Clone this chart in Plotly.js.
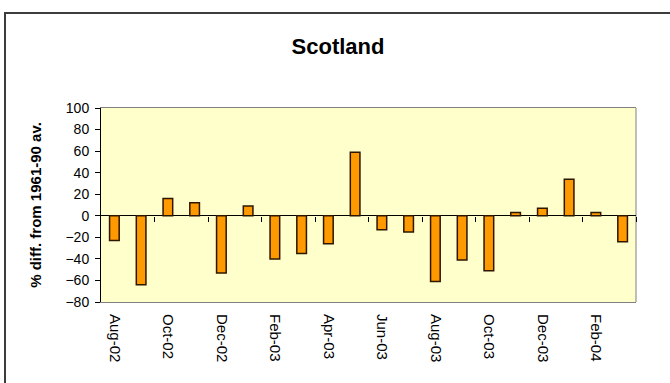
<!DOCTYPE html>
<html>
<head>
<meta charset="utf-8">
<script src="https://cdn.plot.ly/plotly-3.0.1.min.js"></script>
<style>html,body{margin:0;padding:0;background:#fff;}</style>
</head>
<body>
<div id="chart" style="width:670px;height:383px;"></div>
<script>
// Data
var months = ['Aug-02','Sep-02','Oct-02','Nov-02','Dec-02','Jan-03','Feb-03','Mar-03','Apr-03','May-03',
              'Jun-03','Jul-03','Aug-03','Sep-03','Oct-03','Nov-03','Dec-03','Jan-04','Feb-04','Mar-04'];
var pctDiff = [-23, -64, 16, 12, -53, 9, -40, -35, -26, 59,
               -13, -15, -61, -41, -51, 3, 7, 34, 3, -24];
var tickLabels = ['Aug-02','Oct-02','Dec-02','Feb-03','Apr-03','Jun-03','Aug-03','Oct-03','Dec-03','Feb-04'];
var yTicks = [-80, -60, -40, -20, 0, 20, 40, 60, 80, 100];

var W = 670, H = 383;
var M = {l: 101, r: 34, t: 108, b: 81};
var pw = W - M.l - M.r, ph = H - M.t - M.b;
var yMin = yTicks[0], yMax = yTicks[yTicks.length - 1];

// tick marks on the zero line at every other category boundary
var boundaryTicks = [];
for (var i = 1; i < months.length; i += 2) boundaryTicks.push(i + 0.5);

function px2paperX(p) { return (p - M.l) / pw; }
function px2paperY(p) { return (H - M.b - p) / ph; }

var trace = {
  type: 'bar',
  x: months,
  y: pctDiff,
  marker: {color: '#FF9900', line: {color: '#2e1600', width: 1.5}},
  hoverinfo: 'x+y'
};

// empty helper trace so the zero-line tick axis gets drawn
var tickHelper = {
  type: 'scatter', mode: 'none', x: [], y: [],
  xaxis: 'x2', yaxis: 'y', showlegend: false, hoverinfo: 'skip'
};

var layout = {
  width: W, height: H,
  margin: M,
  paper_bgcolor: '#ffffff',
  plot_bgcolor: '#FFFFCC',
  showlegend: false,
  bargap: 0.64,
  font: {family: 'Arial, "Liberation Sans", sans-serif', color: '#000'},
  title: {
    text: '<b>Scotland</b>',
    font: {family: 'Arial, "Liberation Sans", sans-serif', size: 22, color: '#000'},
    xref: 'container', x: 338 / W, xanchor: 'center',
    yref: 'container', y: 1 - 46 / H, yanchor: 'middle'
  },
  xaxis: {
    type: 'category',
    range: [-0.5, months.length - 0.5],
    tickmode: 'array',
    tickvals: tickLabels,
    ticktext: tickLabels,
    tickangle: 90,
    ticks: '',
    ticklabelstandoff: 8,
    tickfont: {size: 15, color: '#000'},
    showline: true, linecolor: '#808080', linewidth: 1, mirror: true,
    showgrid: false, zeroline: false, fixedrange: true
  },
  xaxis2: {
    overlaying: 'x',
    anchor: 'free',
    position: (0 - yMin) / (yMax - yMin),
    type: 'linear',
    range: [-0.5, months.length - 0.5],
    tickmode: 'array',
    tickvals: boundaryTicks,
    ticks: 'outside', ticklen: 5, tickwidth: 1, tickcolor: '#000',
    showticklabels: false,
    showline: false, showgrid: false, zeroline: false, fixedrange: true
  },
  yaxis: {
    range: [yMin, yMax],
    tickmode: 'array',
    tickvals: yTicks,
    ticks: 'outside', ticklen: 5, tickcolor: '#000',
    ticklabelstandoff: 3,
    tickfont: {size: 14, color: '#000'},
    showline: true, linecolor: '#000', linewidth: 1,
    showgrid: false,
    zeroline: true, zerolinecolor: '#000', zerolinewidth: 1.2,
    title: {
      text: '<b>% diff. from 1961-90 av.</b>',
      font: {size: 15, color: '#000'},
      standoff: 20
    },
    fixedrange: true
  },
  shapes: [
    {type: 'line', xref: 'paper', yref: 'paper', layer: 'below',
     x0: 1, x1: 1, y0: 0, y1: 1, line: {color: '#808080', width: 1}},
    {type: 'rect', xref: 'paper', yref: 'paper', layer: 'above',
     x0: px2paperX(5), x1: px2paperX(W + 5), y0: px2paperY(H + 5), y1: px2paperY(13),
     line: {color: '#3c3c3c', width: 2}, fillcolor: 'rgba(0,0,0,0)'}
  ]
};

Plotly.newPlot('chart', [trace, tickHelper], layout, {displayModeBar: false, staticPlot: true});
</script>
</body>
</html>
